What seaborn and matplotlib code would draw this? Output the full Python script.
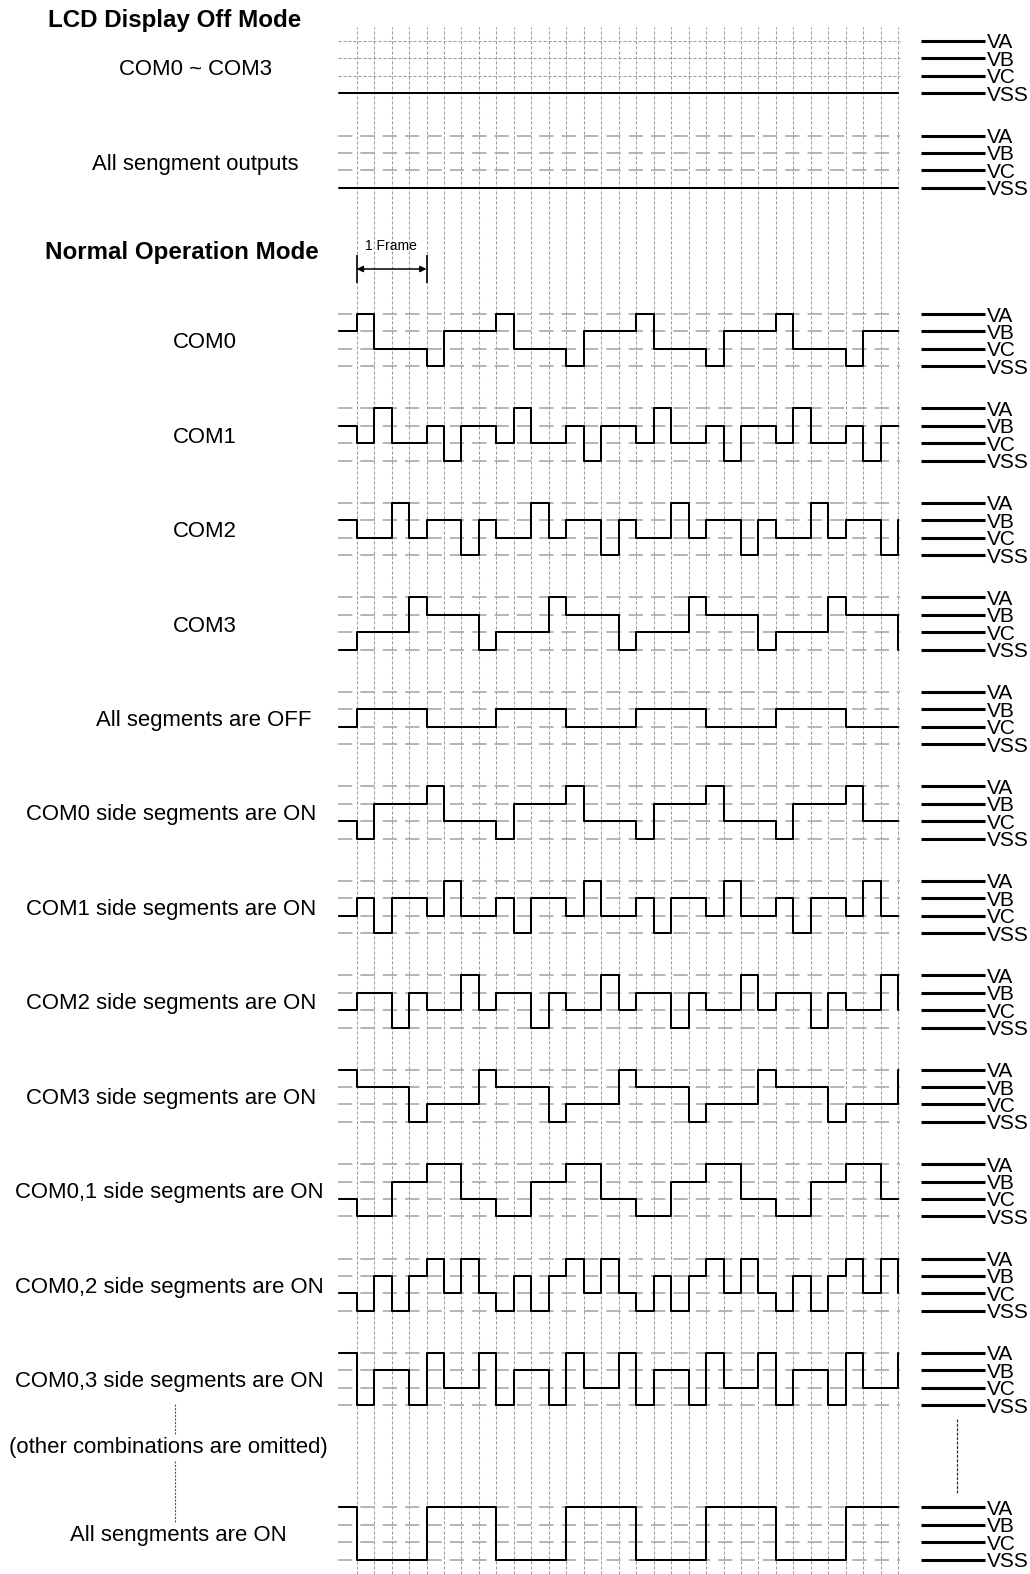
import numpy as np
import matplotlib
matplotlib.use("Agg")
import matplotlib.pyplot as plt
import seaborn as sns

# ---------------- data (levels: 0=VSS, 1=VC, 2=VB, 3=VA), 33 step points ----------------
LEVEL_NAMES = ["VSS", "VC", "VB", "VA"]
STEPS = list(range(33))

OFF_COM = [0, 0, 0, 0, 0, 0, 0, 0, 0, 0, 0, 0, 0, 0, 0, 0, 0, 0, 0, 0, 0, 0, 0, 0, 0, 0, 0, 0, 0, 0, 0, 0, 0]
OFF_SEG = [0, 0, 0, 0, 0, 0, 0, 0, 0, 0, 0, 0, 0, 0, 0, 0, 0, 0, 0, 0, 0, 0, 0, 0, 0, 0, 0, 0, 0, 0, 0, 0, 0]

COM0 = [2, 3, 1, 1, 1, 0, 2, 2, 2, 3, 1, 1, 1, 0, 2, 2, 2, 3, 1, 1, 1, 0, 2, 2, 2, 3, 1, 1, 1, 0, 2, 2, 2]
COM1 = [2, 1, 3, 1, 1, 2, 0, 2, 2, 1, 3, 1, 1, 2, 0, 2, 2, 1, 3, 1, 1, 2, 0, 2, 2, 1, 3, 1, 1, 2, 0, 2, 2]
COM2 = [2, 1, 1, 3, 1, 2, 2, 0, 2, 1, 1, 3, 1, 2, 2, 0, 2, 1, 1, 3, 1, 2, 2, 0, 2, 1, 1, 3, 1, 2, 2, 0, 2]
COM3 = [0, 1, 1, 1, 3, 2, 2, 2, 0, 1, 1, 1, 3, 2, 2, 2, 0, 1, 1, 1, 3, 2, 2, 2, 0, 1, 1, 1, 3, 2, 2, 2, 0]
SEG_OFF = [1, 2, 2, 2, 2, 1, 1, 1, 1, 2, 2, 2, 2, 1, 1, 1, 1, 2, 2, 2, 2, 1, 1, 1, 1, 2, 2, 2, 2, 1, 1, 1, 1]
SEG_C0 = [1, 0, 2, 2, 2, 3, 1, 1, 1, 0, 2, 2, 2, 3, 1, 1, 1, 0, 2, 2, 2, 3, 1, 1, 1, 0, 2, 2, 2, 3, 1, 1, 1]
SEG_C1 = [1, 2, 0, 2, 2, 1, 3, 1, 1, 2, 0, 2, 2, 1, 3, 1, 1, 2, 0, 2, 2, 1, 3, 1, 1, 2, 0, 2, 2, 1, 3, 1, 1]
SEG_C2 = [1, 2, 2, 0, 2, 1, 1, 3, 1, 2, 2, 0, 2, 1, 1, 3, 1, 2, 2, 0, 2, 1, 1, 3, 1, 2, 2, 0, 2, 1, 1, 3, 1]
SEG_C3 = [3, 2, 2, 2, 0, 1, 1, 1, 3, 2, 2, 2, 0, 1, 1, 1, 3, 2, 2, 2, 0, 1, 1, 1, 3, 2, 2, 2, 0, 1, 1, 1, 3]
SEG_C01 = [1, 0, 0, 2, 2, 3, 3, 1, 1, 0, 0, 2, 2, 3, 3, 1, 1, 0, 0, 2, 2, 3, 3, 1, 1, 0, 0, 2, 2, 3, 3, 1, 1]
SEG_C02 = [1, 0, 2, 0, 2, 3, 1, 3, 1, 0, 2, 0, 2, 3, 1, 3, 1, 0, 2, 0, 2, 3, 1, 3, 1, 0, 2, 0, 2, 3, 1, 3, 1]
SEG_C03 = [3, 0, 2, 2, 0, 3, 1, 1, 3, 0, 2, 2, 0, 3, 1, 1, 3, 0, 2, 2, 0, 3, 1, 1, 3, 0, 2, 2, 0, 3, 1, 1, 3]
SEG_ALL = [3, 0, 0, 0, 0, 3, 3, 3, 3, 0, 0, 0, 0, 3, 3, 3, 3, 0, 0, 0, 0, 3, 3, 3, 3, 0, 0, 0, 0, 3, 3, 3, 3]

NORMAL_WAVES = [COM0, COM1, COM2, COM3, SEG_OFF, SEG_C0, SEG_C1, SEG_C2, SEG_C3,
                SEG_C01, SEG_C02, SEG_C03]
NORMAL_LABELS = ["COM0", "COM1", "COM2", "COM3", "All segments are OFF",
                 "COM0 side segments are ON", "COM1 side segments are ON",
                 "COM2 side segments are ON", "COM3 side segments are ON",
                 "COM0,1 side segments are ON", "COM0,2 side segments are ON",
                 "COM0,3 side segments are ON"]
OFF_LABELS = ["COM0 ~ COM3", "All sengment outputs"]
LAST_LABEL = "All sengments are ON"
OMIT_LABEL = "(other combinations are omitted)"
TITLE_OFF = "LCD Display Off Mode"
TITLE_NORMAL = "Normal Operation Mode"
FRAME_LABEL = "1 Frame"

# ---------------- layout (pixels of the 1030x1574 canvas) ----------------
W, H = 1030, 1574
X0, DX, DY = 339.2, 17.47, 17.45


def sx(px):
    return (px - X0) / DX


def sy(px):
    return -px / DY


NORMAL_VA_PX = [314.0 + 94.45 * k for k in range(12)]
NORMAL_LABEL_X = [205, 205, 205, 205, 204, 171, 171, 171, 171, 169, 169, 169]
OFF_VA_PX = [40.7, 135.5]
OFF_LABEL_X = [195.8, 195]
LAST_VA_PX = 1507.3

sns.set_style("white")
plt.rcParams["font.family"] = ["Liberation Sans", "DejaVu Sans"]
plt.rcParams["lines.scale_dashes"] = False
plt.rcParams["text.color"] = "black"

fig = plt.figure(figsize=(W / 100, H / 100), dpi=100)
ax = fig.add_axes([0, 0, 1, 1])
ax.set_xlim(sx(0), sx(W))
ax.set_ylim(sy(H), sy(0))
ax.set_axis_off()

GRID_C = "#9a9a9a"
LEVEL_C = "#a8a8a8"
LW_WAVE = 1.45
FS = 15.9

# vertical grid
ax.vlines(STEPS[1:], sy(H), sy(27), colors=GRID_C, linewidth=0.75,
          linestyles=[(0, (2.2, 1.4))], zorder=1)


def level_lines(vss_y, style, levels=(0, 1, 2, 3)):
    for lv in levels:
        if style == "fine":
            ax.hlines(vss_y + lv, sx(338), sx(900), colors=GRID_C, linewidth=0.75,
                      linestyles=[(0, (2.2, 1.4))], zorder=1)
        else:
            ax.hlines(vss_y + lv, sx(338), sx(900), colors=LEVEL_C, linewidth=1.2,
                      linestyles=[(0, (10.3, 5.8))], zorder=1)


def right_legend(vss_y):
    for lv in range(4):
        ax.hlines(vss_y + lv, sx(920.7), sx(985), colors="black", linewidth=2.2, zorder=3)
        ax.text(sx(987), vss_y + lv, LEVEL_NAMES[lv], ha="left", va="center_baseline",
                fontsize=15, color="black")


def wave(values, vss_y):
    y = np.asarray(values, dtype=float) + vss_y
    sns.lineplot(x=STEPS, y=y, drawstyle="steps-post", color="black",
                 linewidth=LW_WAVE, estimator=None, sort=False, ax=ax,
                 legend=False, zorder=4)


# ---------------- LCD display off mode ----------------
ax.text(sx(175), sy(18.5), TITLE_OFF, ha="center", va="center_baseline",
        fontsize=17.4, fontweight="bold", color="black")
for k, (va_px, vals, lab, lx) in enumerate(zip(OFF_VA_PX, [OFF_COM, OFF_SEG], OFF_LABELS, OFF_LABEL_X)):
    vss_y = sy(va_px) - 3
    level_lines(vss_y, "fine" if k == 0 else "dash", levels=(1, 2, 3))
    wave(vals, vss_y)
    right_legend(vss_y)
    ax.text(sx(lx), vss_y + 1.5, lab, ha="center", va="center_baseline", fontsize=FS,
            color="black")

# ---------------- normal operation mode ----------------
ax.text(sx(181.7), sy(250.5), TITLE_NORMAL, ha="center", va="center_baseline",
        fontsize=17.4, fontweight="bold", color="black")

# 1 frame marker
ax.vlines([1, 5], sy(283), sy(255), colors="black", linewidth=1.2, zorder=4)
ax.annotate("", xy=(5, sy(269)), xytext=(1, sy(269)),
            arrowprops=dict(arrowstyle="<|-|>", color="black", lw=1.1,
                            shrinkA=0, shrinkB=0, mutation_scale=9), zorder=4)
ax.text(sx(391), sy(245), FRAME_LABEL, ha="center", va="center_baseline", fontsize=10,
        color="black")

for va_px, vals, lab, lx in zip(NORMAL_VA_PX, NORMAL_WAVES, NORMAL_LABELS, NORMAL_LABEL_X):
    vss_y = sy(va_px) - 3
    level_lines(vss_y, "dash")
    wave(vals, vss_y)
    right_legend(vss_y)
    ax.text(sx(lx), vss_y + 1.5, lab, ha="center", va="center_baseline", fontsize=FS,
            color="black")

# last row: all segments on
vss_last = sy(LAST_VA_PX) - 3
level_lines(vss_last, "dash")
wave(SEG_ALL, vss_last)
right_legend(vss_last)
ax.text(sx(178), vss_last + 1.5, LAST_LABEL, ha="center", va="center_baseline", fontsize=FS,
        color="black")

# omitted rows
ax.text(sx(168.3), sy(1445.5), OMIT_LABEL, ha="center", va="center_baseline", fontsize=FS,
        color="black")
ax.vlines(sx(175), sy(1434), sy(1404), colors="#555555", linewidth=0.8,
          linestyles=[(0, (1.5, 1.0))])
ax.vlines(sx(175), sy(1522), sy(1461), colors="#555555", linewidth=0.8,
          linestyles=[(0, (1.5, 1.0))])
ax.vlines(sx(956.7), sy(1493), sy(1419), colors="#333333", linewidth=0.9,
          linestyles=[(0, (2.2, 1.0))])

fig.savefig("out.png", dpi=100, facecolor="white")
